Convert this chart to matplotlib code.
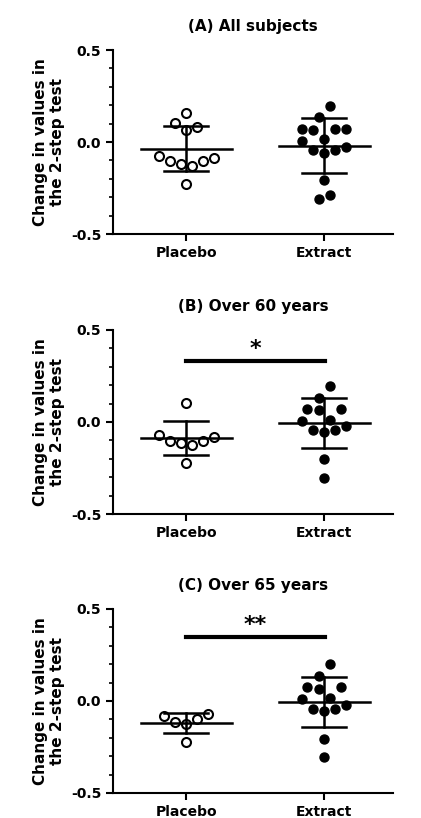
import matplotlib
matplotlib.use("Agg")
import matplotlib.pyplot as plt
import numpy as np
from matplotlib.ticker import MultipleLocator

titles = ["(A) All subjects", "(B) Over 60 years", "(C) Over 65 years"]
groups = ["Placebo", "Extract"]

# (x offset, value) pairs per group
a_pl_off = [0, -0.08, 0.08, 0, -0.2, -0.12, -0.04, 0.04, 0.12, 0.2, 0]
a_pl = [0.156, 0.105, 0.083, 0.065, -0.076, -0.105, -0.12, -0.129, -0.105, -0.087, -0.228]
a_ex_off = [0.04, -0.04, -0.16, -0.08, 0.08, 0.16, -0.16, 0, -0.08, 0, 0.08, 0.16, 0, 0.04, -0.04]
a_ex = [0.196, 0.134, 0.072, 0.065, 0.072, 0.072, 0.005, 0.014, -0.043, -0.058, -0.043, -0.025, -0.207, -0.286, -0.308]
b_pl_off = [0, -0.2, -0.12, -0.04, 0.04, 0.12, 0.2, 0]
b_pl = [0.104, -0.073, -0.102, -0.115, -0.125, -0.102, -0.084, -0.224]
b_ex_off = [0.04, -0.04, -0.12, -0.04, 0.12, -0.16, 0.04, -0.08, 0, 0.08, 0.16, 0, 0]
b_ex = [0.195, 0.133, 0.073, 0.064, 0.073, 0.007, 0.013, -0.044, -0.053, -0.044, -0.024, -0.202, -0.305]
c_pl_off = [-0.16, -0.08, 0, 0.08, 0.16, 0]
c_pl = [-0.084, -0.113, -0.124, -0.1, -0.071, -0.224]
c_ex_off = [0.04, -0.04, -0.12, -0.04, 0.12, -0.16, 0.04, -0.08, 0, 0.08, 0.16, 0, 0]
c_ex = [0.2, 0.138, 0.078, 0.067, 0.078, 0.009, 0.018, -0.042, -0.053, -0.042, -0.024, -0.204, -0.304]

means = [(-0.04, -0.02), (-0.089, -0.005), (-0.12, -0.005)]
sd_hi = [(0.088, 0.13), (0.005, 0.13), (-0.065, 0.13)]
sd_lo = [(-0.155, -0.17), (-0.18, -0.14), (-0.175, -0.14)]
sig = [None, ("*", 0.33), ("**", 0.35)]

data = [(a_pl_off, a_pl, a_ex_off, a_ex), (b_pl_off, b_pl, b_ex_off, b_ex), (c_pl_off, c_pl, c_ex_off, c_ex)]

W, H = 421, 818
fig = plt.figure(figsize=(W/100, H/100), dpi=100)
tops = [50, 330, 609]
for i in range(3):
    top = tops[i]; bot = top + 184
    ax = fig.add_axes([113/W, 1 - bot/H, 280/W, 184/H])
    po, pv, eo, ev = data[i]
    ax.scatter(np.array(po), pv, s=42, facecolors="white", edgecolors="black", linewidths=1.5, zorder=3)
    ax.scatter(1 + np.array(eo), ev, s=42, color="black", zorder=3)
    for g in range(2):
        ax.plot([g-0.33, g+0.33], [means[i][g]]*2, color="black", lw=1.8, zorder=4)
        ax.plot([g, g], [sd_lo[i][g], sd_hi[i][g]], color="black", lw=1.8, zorder=4)
        for yv in (sd_lo[i][g], sd_hi[i][g]):
            ax.plot([g-0.16, g+0.16], [yv]*2, color="black", lw=1.8, zorder=4)
    if sig[i]:
        ax.plot([0, 1.01], [sig[i][1]]*2, color="black", lw=3)
        ax.text(0.5, sig[i][1] + 0.01, sig[i][0], ha="center", va="bottom", fontsize=16, fontweight="bold")
    ax.set_xlim(-0.53, 1.5)
    ax.set_ylim(-0.5, 0.5)
    ax.set_yticks([-0.5, 0.0, 0.5])
    ax.set_yticklabels(["-0.5", "0.0", "0.5"])
    ax.yaxis.set_minor_locator(MultipleLocator(0.1))
    ax.set_xticks([0, 1])
    ax.set_xticklabels(groups)
    for s in ("top", "right"):
        ax.spines[s].set_visible(False)
    for s in ("left", "bottom"):
        ax.spines[s].set_linewidth(1.5)
    ax.tick_params(width=1.5, length=5, labelsize=10)
    ax.tick_params(which="minor", width=1.2, length=3)
    for lab in ax.get_xticklabels() + ax.get_yticklabels():
        lab.set_fontweight("bold")
    ax.set_title(titles[i], fontsize=11, fontweight="bold", pad=14)
    ax.set_ylabel("Change in values in\nthe 2-step test", fontsize=11, fontweight="bold", labelpad=4)

fig.savefig("out.png", dpi=100)
